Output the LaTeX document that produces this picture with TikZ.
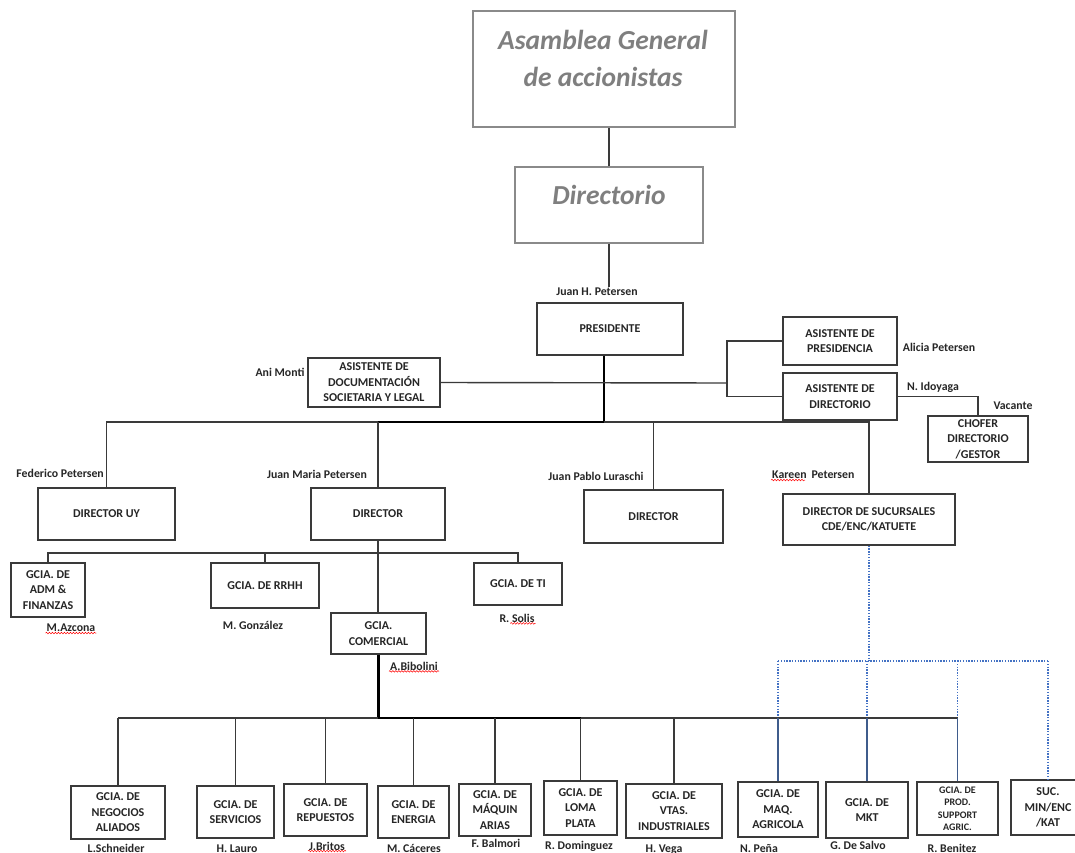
\documentclass[tikz,border=0pt]{standalone}
\usepackage{fontspec}
\setmainfont{Carlito}
\usetikzlibrary{decorations.pathmorphing}

\definecolor{boxline}{HTML}{3A3A3A}
\definecolor{topline}{HTML}{8A8A8A}
\definecolor{titlegray}{HTML}{7F7F7F}
\definecolor{dotblue}{HTML}{4472C4}
\definecolor{linkblue}{HTML}{3F5C8C}

\tikzset{
  post/.style={draw=boxline, line width=1.3pt, fill=white, align=center, inner sep=1pt,
    font=\bfseries\fontsize{12}{15.5}\selectfont, text=black!85},
  toppost/.style={draw=topline, line width=1.3pt, fill=white},
  title/.style={font=\bfseries\itshape\fontsize{27.5}{37}\selectfont, text=titlegray, align=center},
  who/.style={font=\bfseries\fontsize{11.8}{13}\selectfont, inner sep=1pt, text=black!85},
  link/.style={draw=boxline, line width=1.4pt},
  trunk/.style={draw=black, line width=2.4pt},
  dotlink/.style={draw=dotblue, line width=1.4pt, dash pattern=on 1.4pt off 1.4pt},
  bluelink/.style={draw=linkblue, line width=1.4pt},
  squig/.style={draw=red, line width=0.5pt, decorate,
    decoration={snake, amplitude=0.8pt, segment length=3pt}}
}

\begin{document}
\begin{tikzpicture}[x=1pt,y=-1pt]
\useasboundingbox (0,0) rectangle (1075,853);

% asamblea y directorio
\node[toppost, minimum width=262, minimum height=116] (asamblea) at (604,69) {};
\node[title] (asambleatxt) at (603,58) {Asamblea General\\de accionistas};
\node[toppost, minimum width=188, minimum height=76] (directorio) at (609,205) {};
\node[title] (directoriotxt) at (609,195) {Directorio};

% presidencia y asistentes
\node[who] (jhp) at (597,292) {Juan H. Petersen};
\node[post, minimum width=146, minimum height=52] (presidente) at (610,329) {PRESIDENTE};
\node[post, minimum width=132, minimum height=49] (asisdoc) at (374,382.5) {ASISTENTE DE\\DOCUMENTACIÓN\\SOCIETARIA Y LEGAL};
\node[who] (ani) at (280,372) {Ani Monti};
\node[post, minimum width=114, minimum height=48] (asispres) at (840,341) {ASISTENTE DE\\PRESIDENCIA};
\node[who] (alicia) at (939,347) {Alicia Petersen};
\node[post, minimum width=114, minimum height=47] (asisdir) at (840,396.5) {ASISTENTE DE\\DIRECTORIO};
\node[who] (idoyaga) at (933,387) {N. Idoyaga};
\node[post, minimum width=100, minimum height=46] (chofer) at (978,439) {CHOFER\\DIRECTORIO\\/GESTOR};
\node[who] (vacante) at (1013,406) {Vacante};

% directores
\node[post, minimum width=137, minimum height=52] (diruy) at (106.5,514) {DIRECTOR UY};
\node[who, anchor=east] (federico) at (105,473) {Federico Petersen};
\node[post, minimum width=134, minimum height=52] (dirjmp) at (378,514) {DIRECTOR};
\node[who] (jmp) at (317,474) {Juan Maria Petersen};
\node[post, minimum width=139, minimum height=53] (dirjpl) at (653.5,516.5) {DIRECTOR};
\node[who] (jpl) at (596,476) {Juan Pablo Luraschi};
\node[post, minimum width=172, minimum height=51] (dirsuc) at (869,519.5) {DIRECTOR DE SUCURSALES\\CDE/ENC/KATUETE};
\node[who, anchor=west] (kareen) at (771,475) {Kareen\hspace{5pt}Petersen};

% gerencias
\node[post, minimum width=74, minimum height=54] (gadm) at (48,590) {GCIA. DE\\ADM \&\\FINANZAS};
\node[who] (azcona) at (71,628) {M.Azcona};
\node[post, minimum width=108, minimum height=45] (grrhh) at (265,585.5) {GCIA. DE RRHH};
\node[who] (gonzalez) at (253,625) {M. González};
\node[post, minimum width=88, minimum height=42] (gti) at (518,584) {GCIA. DE TI};
\node[who] (solis) at (517,618) {R. Solis};
\node[post, minimum width=95, minimum height=41] (gcom) at (378.5,633.5) {GCIA.\\COMERCIAL};
\node[who] (bibolini) at (414,666) {A.Bibolini};

% gerencias comerciales
\node[post, minimum width=94, minimum height=53] (neg) at (118,812.5) {GCIA. DE\\NEGOCIOS\\ALIADOS};
\node[who, anchor=base] (schneider) at (116,852) {L.Schneider};
\node[post, minimum width=77, minimum height=52] (serv) at (235.5,812) {GCIA. DE\\SERVICIOS};
\node[who, anchor=base] (lauro) at (237,852) {H. Lauro};
\node[post, minimum width=83, minimum height=52] (rep) at (325.5,810) {GCIA. DE\\REPUESTOS};
\node[who, anchor=base] (britos) at (327,850) {J.Britos};
\node[post, minimum width=71, minimum height=52] (ene) at (413.5,812) {GCIA. DE\\ENERGIA};
\node[who, anchor=base] (caceres) at (414,852) {M. Cáceres};
\node[post, minimum width=72, minimum height=52] (maq) at (495,810) {GCIA. DE\\MÁQUIN\\ARIAS};
\node[who] (balmori) at (496,843) {F. Balmori};
\node[post, minimum width=73, minimum height=54] (loma) at (580.5,808) {GCIA. DE\\LOMA\\PLATA};
\node[who] (dominguez) at (579,846) {R. Dominguez};
\node[post, minimum width=96, minimum height=54] (vtas) at (674,811) {GCIA. DE\\VTAS.\\INDUSTRIALES};
\node[who, anchor=base] (vega) at (664,852) {H. Vega};
\node[post, minimum width=80, minimum height=55] (agri) at (778,809.5) {GCIA. DE\\MAQ.\\AGRICOLA};
\node[who, anchor=base] (pena) at (759,852) {N. Peña};
\node[post, minimum width=82, minimum height=56] (mkt) at (867,810) {GCIA. DE\\MKT};
\node[who] (salvo) at (858,845) {G. De Salvo};
\node[post, minimum width=81, minimum height=53, font=\bfseries\fontsize{10}{12.5}\selectfont] (prod) at (957.5,808.5) {GCIA. DE\\PROD.\\SUPPORT\\AGRIC.};
\node[who, anchor=base] (benitez) at (952,852) {R. Benitez};
\node[post, minimum width=74, minimum height=55] (suc) at (1048,807.5) {SUC.\\MIN/ENC\\/KAT};

% lineas
\coordinate (ptrunk) at (604,422);
\coordinate (brk) at (727,383);
\coordinate (jbus) at (378,553);
\coordinate (bbus) at (378,718);
\coordinate (sbus) at (869,661);

\draw[link] (directorio.north) -- (directorio.north |- asamblea.south);
\draw[link] (directorio.south) -- (directorio.south |- jhp.north);
\draw[trunk] (ptrunk |- presidente.south) -- (ptrunk);
\draw[link] (asisdoc.east) -- (brk);
\draw[link] (asispres.west) -| (brk) |- (asisdir.west);
\draw[link] (asisdir.east) -| (chofer.north);

\draw[link] (diruy.north) |- (ptrunk) -| (dirsuc.north);
\draw[trunk] (dirjmp.north |- ptrunk) -- (ptrunk);
\draw[link] (dirjmp.north) -- (dirjmp.north |- ptrunk);
\draw[link] (dirjpl.north) -- (dirjpl.north |- ptrunk);

\draw[link] (gadm.north) |- (jbus) -| (gti.north);
\draw[link] (grrhh.north) -- (grrhh.north |- jbus);
\draw[link] (dirjmp.south) -- (dirjmp.south |- gcom.north);

% sucursales (punteado)
\draw[dotlink] (dirsuc.south) -- (sbus);
\draw[dotlink] (agri.north |- sbus) -- (suc.north |- sbus);
\draw[dotlink] (agri.north |- sbus) -- (agri.north |- bbus);
\draw[dotlink] (mkt.north |- sbus) -- (mkt.north |- bbus);
\draw[dotlink] (prod.north |- sbus) -- (prod.north |- bbus);
\draw[dotlink] (suc.north |- sbus) -- (suc.north);

\draw[trunk] (gcom.south) -- (gcom.south |- bbus);
\draw[link] (neg.north |- bbus) -- (prod.north |- bbus);
\draw[trunk] (bbus) -- (loma.north |- bbus);
\draw[link] (neg.north) -- (neg.north |- bbus);
\draw[link] (serv.north) -- (serv.north |- bbus);
\draw[link] (rep.north) -- (rep.north |- bbus);
\draw[link] (ene.north) -- (ene.north |- bbus);
\draw[link] (maq.north) -- (maq.north |- bbus);
\draw[link] (loma.north) -- (loma.north |- bbus);
\draw[link] (vtas.north) -- (vtas.north |- bbus);
\draw[bluelink] (agri.north) -- (agri.north |- bbus);
\draw[bluelink] (mkt.north) -- (mkt.north |- bbus);
\draw[bluelink] (prod.north) -- (prod.north |- bbus);

% subrayado rojo
\draw[squig] (azcona.south west) -- (azcona.south east);
\draw[squig] ([xshift=12pt]solis.south west) -- (solis.south east);
\draw[squig] (bibolini.south west) -- (bibolini.south east);
\draw[squig] (kareen.south west) -- ([xshift=34pt]kareen.south west);
\draw[squig] ([yshift=-1pt]britos.base west) -- ([yshift=-1pt]britos.base east);
\end{tikzpicture}
\end{document}
